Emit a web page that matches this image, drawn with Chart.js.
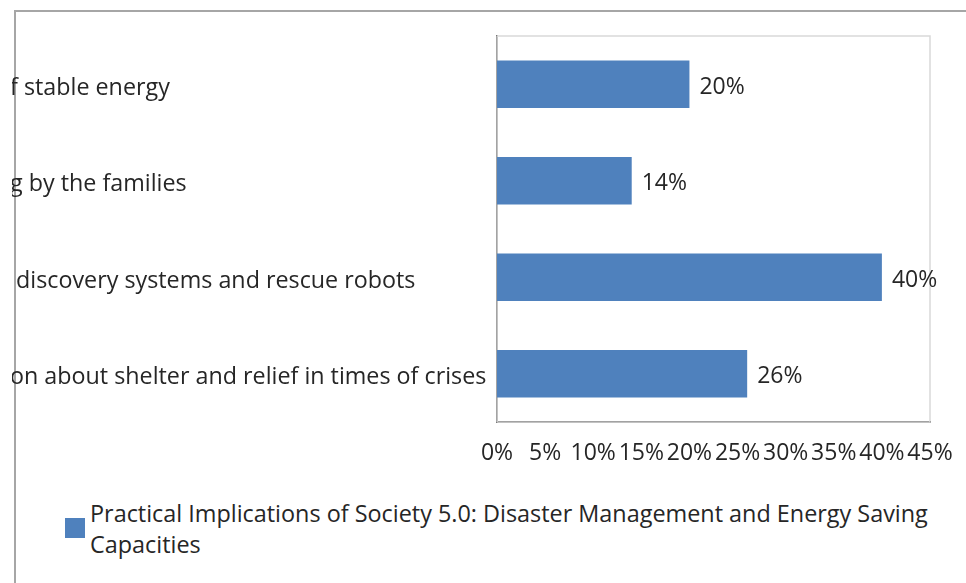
<!DOCTYPE html>
<html>
<head>
<meta charset="utf-8">
<script src="https://cdn.jsdelivr.net/npm/chart.js@4.4.1/dist/chart.umd.min.js"></script>
<style>
  html, body { margin: 0; padding: 0; background: #fff; }
  body { width: 966px; height: 583px; position: relative; overflow: hidden; }
  #frame {
    position: absolute; left: 14px; top: 10px; width: 1000px; height: 1000px;
    border-top: 2px solid #a6a6a6; border-left: 2px solid #a6a6a6;
  }
  #wrap { position: absolute; left: 12px; top: 0; width: 954px; height: 480px; overflow: hidden; }
  #chart { position: absolute; left: -2px; top: 0; }
  #legend {
    position: absolute; left: 65px; top: 498px;
    font-family: "Open Sans", sans-serif; font-size: 23.4px; line-height: 31px; color: #262626;
  }
  #legend .swatch {
    position: absolute; left: 0; top: 20px; width: 20px; height: 20px; background: #4f81bd;
  }
  #legend .text { margin-left: 25px; width: 870px; }
</style>
</head>
<body>
<div id="frame"></div>
<div id="wrap"><canvas id="chart" width="956" height="480"></canvas></div>
<div id="legend"><span class="swatch"></span><div class="text" id="legendText"></div></div>
<script>
// Survey categories, top to bottom (the label column is cut off by the frame on the left)
const categories = [
  "f stable energy",
  "g by the families",
  " discovery systems and rescue robots",
  "on about shelter and relief in times of crises"
];
// Share of respondents (%)
const shares = [20, 14, 40, 26];
const seriesName = "Practical Implications of Society 5.0: Disaster Management and Energy Saving Capacities";
const xTicks = [0, 5, 10, 15, 20, 25, 30, 35, 40, 45];

const BAR_BLUE = "#4f81bd";
const TEXT = "#262626";
const FONT = "'Open Sans', sans-serif";

document.getElementById("legendText").textContent = seriesName;

// Light frame around the plot area (top and right edges)
const plotFrame = {
  id: "plotFrame",
  beforeDatasetsDraw(chart) {
    const { ctx, chartArea: a } = chart;
    ctx.save();
    ctx.strokeStyle = "#d9d9d9";
    ctx.lineWidth = 1.5;
    ctx.strokeRect(a.left, a.top, a.right - a.left, a.bottom - a.top);
    ctx.restore();
  }
};

// Percentage labels to the right of each bar
const valueLabels = {
  id: "valueLabels",
  afterDatasetsDraw(chart) {
    const { ctx } = chart;
    const meta = chart.getDatasetMeta(0);
    ctx.save();
    ctx.font = "23px " + FONT;
    ctx.fillStyle = TEXT;
    ctx.textAlign = "left";
    ctx.textBaseline = "middle";
    meta.data.forEach((bar, i) => {
      ctx.fillText(shares[i] + "%", bar.x + 10, bar.y + 3);
    });
    ctx.restore();
  }
};

new Chart(document.getElementById("chart"), {
  type: "bar",
  data: {
    labels: categories,
    datasets: [{
      label: seriesName,
      data: shares,
      backgroundColor: BAR_BLUE,
      borderWidth: 0,
      categoryPercentage: 1,
      barPercentage: 0.49
    }]
  },
  options: {
    indexAxis: "y",
    responsive: false,
    animation: false,
    devicePixelRatio: 1,
    layout: { padding: { top: 36, right: 36, left: 0, bottom: 0 } },
    plugins: { legend: { display: false }, tooltip: { enabled: false } },
    scales: {
      x: {
        min: 0, max: 45,
        afterBuildTicks(scale) { scale.ticks = xTicks.map(v => ({ value: v })); },
        afterFit(scale) {
          scale.height = 58;
          scale.paddingLeft = 0;
          scale.paddingRight = 0;
        },
        grid: { display: false, drawTicks: false },
        border: { display: true, color: "#000", width: 1.5 },
        ticks: {
          padding: 18,
          color: TEXT,
          font: { family: FONT, size: 23 },
          maxRotation: 0,
          autoSkip: false,
          callback: v => v + "%"
        }
      },
      y: {
        afterFit(scale) { scale.width = 487; },
        grid: { display: false, drawTicks: false },
        border: { display: true, color: "#000", width: 1.5 },
        ticks: {
          crossAlign: "far",
          labelOffset: 4,
          color: TEXT,
          font: { family: FONT, size: 23.3 },
          autoSkip: false
        }
      }
    }
  },
  plugins: [plotFrame, valueLabels]
});
</script>
</body>
</html>
